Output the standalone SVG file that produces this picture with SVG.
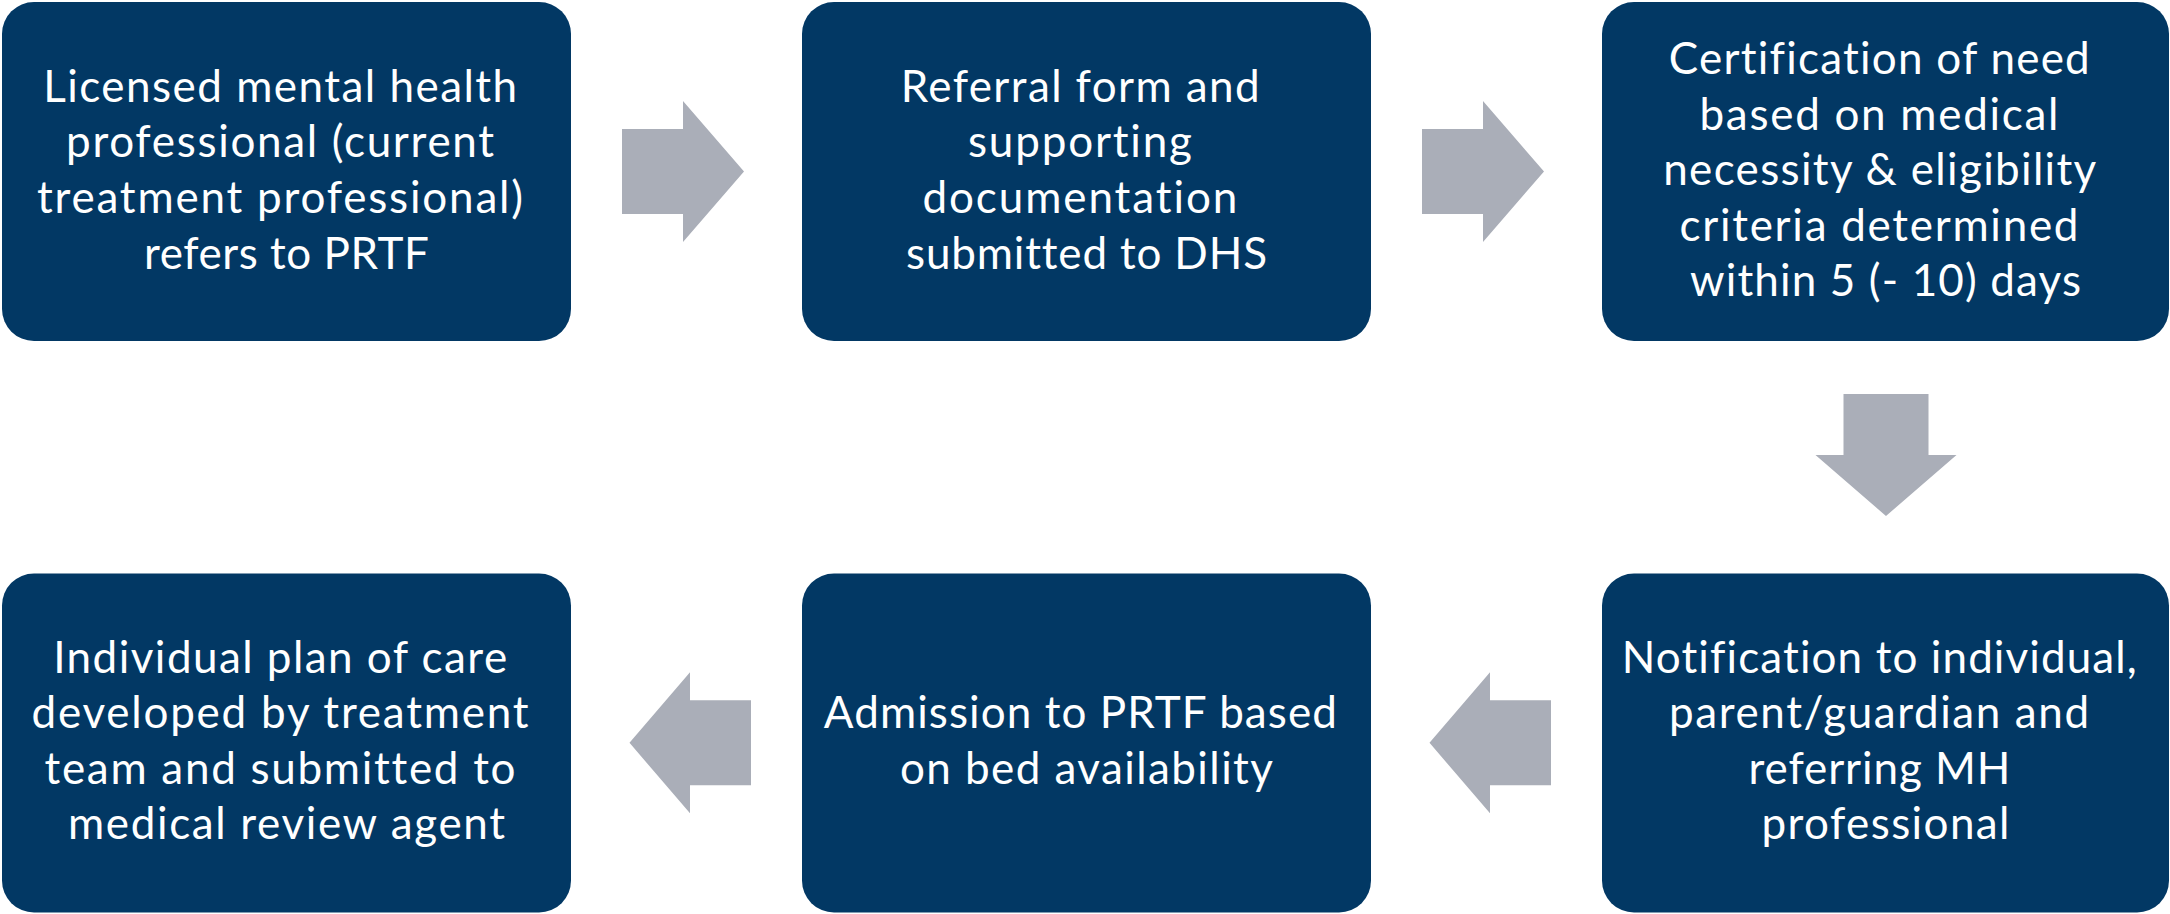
<svg xmlns="http://www.w3.org/2000/svg" width="2170" height="914" viewBox="0 0 2170 914">
  <style>
    .box { fill: #023864; }
    .arrow { fill: #AAAEB8; }
    .label { fill: #FFFFFF; font-family: Lato, "Open Sans", "Liberation Sans", sans-serif; font-size: 44px; text-anchor: middle; font-variant-ligatures: none; font-feature-settings: "liga" 0, "clig" 0; }
  </style>

  <rect width="2170" height="914" fill="#FFFFFF"/>

  <!-- flow arrows -->
  <g id="connectors">
    <polygon class="arrow" points="622,129 683,129 683,101 744,171.5 683,242 683,214 622,214"/>
    <polygon class="arrow" points="1422,129 1483,129 1483,101 1544,171.5 1483,242 1483,214 1422,214"/>
    <polygon class="arrow" points="1843.5,394 1928.5,394 1928.5,455 1956.5,455 1886,516 1815.5,455 1843.5,455"/>
    <polygon class="arrow" points="1551,700.3 1490,700.3 1490,672.3 1429.5,742.8 1490,813.3 1490,785.3 1551,785.3"/>
    <polygon class="arrow" points="751,700.3 690,700.3 690,672.3 629.5,742.8 690,813.3 690,785.3 751,785.3"/>
  </g>

  <!-- step 1 -->
  <g id="step-referral">
    <rect class="box" x="2" y="2" width="569" height="339" rx="32" ry="32"/>
    <text class="label" lengthAdjust="spacingAndGlyphs">
      <tspan x="286.5" y="101.7" textLength="474">Licensed mental health</tspan>
      <tspan x="286.5" y="157.3" textLength="428">professional (current</tspan>
      <tspan x="286.5" y="212.9" textLength="486">treatment professional)</tspan>
      <tspan x="286.5" y="268.5" textLength="285">refers to PRTF</tspan>
    </text>
  </g>

  <!-- step 2 -->
  <g id="step-submission">
    <rect class="box" x="802" y="2" width="569" height="339" rx="32" ry="32"/>
    <text class="label" lengthAdjust="spacingAndGlyphs">
      <tspan x="1086.5" y="101.7" textLength="359">Referral form and</tspan>
      <tspan x="1086.5" y="157.3" textLength="224">supporting</tspan>
      <tspan x="1086.5" y="212.9" textLength="315">documentation</tspan>
      <tspan x="1086.5" y="268.5" textLength="361">submitted to DHS</tspan>
    </text>
  </g>

  <!-- step 3 -->
  <g id="step-certification">
    <rect class="box" x="1602" y="2" width="567" height="339" rx="32" ry="32"/>
    <text class="label" lengthAdjust="spacingAndGlyphs">
      <tspan x="1885.5" y="74" textLength="421">Certification of need</tspan>
      <tspan x="1885.5" y="129.6" textLength="359">based on medical</tspan>
      <tspan x="1885.5" y="185.2" textLength="432">necessity &amp; eligibility</tspan>
      <tspan x="1885.5" y="240.8" textLength="399">criteria determined</tspan>
      <tspan x="1885.5" y="296.4" textLength="391">within 5 (- 10) days</tspan>
    </text>
  </g>

  <!-- step 4 -->
  <g id="step-notification">
    <rect class="box" x="1602" y="573.5" width="567" height="339" rx="32" ry="32"/>
    <text class="label" lengthAdjust="spacingAndGlyphs">
      <tspan x="1885.5" y="672.6" textLength="515">Notification to individual,</tspan>
      <tspan x="1885.5" y="728.2" textLength="420">parent/guardian and</tspan>
      <tspan x="1885.5" y="783.8" textLength="262">referring MH</tspan>
      <tspan x="1885.5" y="839.4" textLength="248">professional</tspan>
    </text>
  </g>

  <!-- step 5 -->
  <g id="step-admission">
    <rect class="box" x="802" y="573.5" width="569" height="339" rx="32" ry="32"/>
    <text class="label" lengthAdjust="spacingAndGlyphs">
      <tspan x="1086.5" y="728.2" textLength="513">Admission to PRTF based</tspan>
      <tspan x="1086.5" y="783.8" textLength="373">on bed availability</tspan>
    </text>
  </g>

  <!-- step 6 -->
  <g id="step-plan-of-care">
    <rect class="box" x="2" y="573.5" width="569" height="339" rx="32" ry="32"/>
    <text class="label" lengthAdjust="spacingAndGlyphs">
      <tspan x="286.5" y="672.6" textLength="454">Individual plan of care</tspan>
      <tspan x="286.5" y="728.2" textLength="497">developed by treatment</tspan>
      <tspan x="286.5" y="783.8" textLength="471">team and submitted to</tspan>
      <tspan x="286.5" y="839.4" textLength="437">medical review agent</tspan>
    </text>
  </g>
</svg>
